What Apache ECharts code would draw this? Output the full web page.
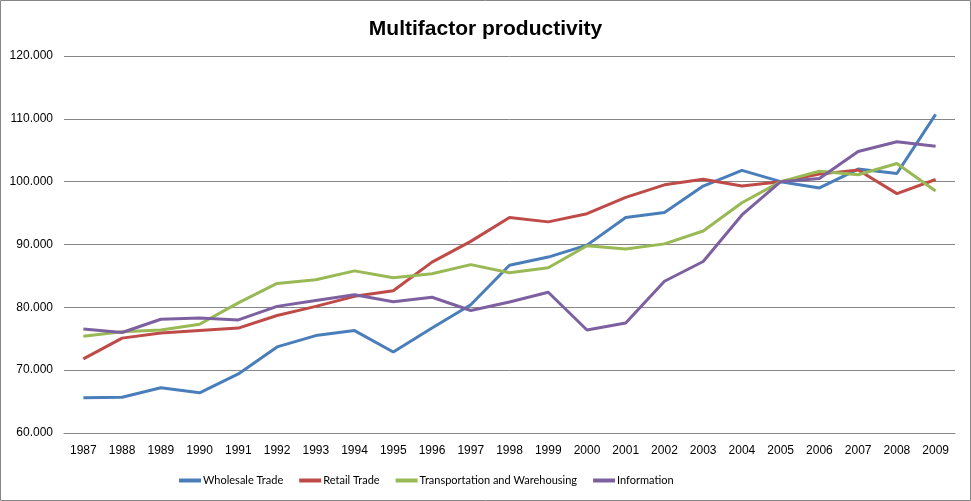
<!DOCTYPE html>
<html><head><meta charset="utf-8">
<script src="https://cdn.jsdelivr.net/npm/echarts@6/dist/echarts.min.js"></script>
<style>html,body{margin:0;padding:0;background:#fff}#c{width:971px;height:501px}</style>
</head><body><div id="c"></div>
<script>
const years = ['1987','1988','1989','1990','1991','1992','1993','1994','1995','1996','1997','1998','1999','2000','2001','2002','2003','2004','2005','2006','2007','2008','2009'];
const wholesale = [65.6,65.7,67.2,66.4,69.4,73.7,75.5,76.3,72.9,76.7,80.4,86.7,88.0,89.9,94.3,95.1,99.3,101.8,100.0,99.0,102.0,101.3,110.7];
const retail = [71.8,75.1,75.9,76.3,76.7,78.7,80.15,81.75,82.65,87.2,90.5,94.3,93.6,94.9,97.5,99.5,100.4,99.3,100.0,101.2,101.85,98.1,100.35];
const transport = [75.4,76.1,76.4,77.3,80.7,83.8,84.4,85.8,84.7,85.35,86.8,85.5,86.3,89.8,89.3,90.1,92.15,96.65,100.0,101.65,101.1,102.9,98.5];
const information = [76.55,76.0,78.1,78.3,78.0,80.15,81.1,82.0,80.9,81.6,79.5,80.85,82.4,76.4,77.5,84.15,87.3,94.7,100.0,100.5,104.8,106.35,105.65];
const seriesNames = ['Wholesale Trade','Retail Trade','Transportation and Warehousing','Information'];
const colors = ['#4A7EBB','#BE4B48','#98B954','#7D60A0'];
const allData = [wholesale, retail, transport, information];

const chart = echarts.init(document.getElementById('c'));
const font = '"Liberation Sans", Arial, sans-serif';
const legendFont = 'Lato, "Liberation Sans", sans-serif';
chart.setOption({
  animation: false,
  title: {text: 'Multifactor productivity', left: 'center', top: 14,
    textStyle: {fontFamily: font, fontSize: 21, fontWeight: 'bold', color: '#000'}},
  graphic: [{type: 'rect', shape: {x: 0.5, y: 0.5, width: 970, height: 500},
    style: {fill: 'none', stroke: '#868686', lineWidth: 1}, silent: true}],
  grid: {left: 64, right: 16, top: 56, bottom: 68},
  legend: {
    bottom: 10, left: 174, itemGap: 16, itemWidth: 22, itemHeight: 4, icon: 'rect',
    textStyle: {fontFamily: legendFont, fontSize: 11, color: '#000', padding: [0,0,0,-3]},
    data: seriesNames
  },
  xAxis: {type: 'category', data: years, boundaryGap: true,
    axisLine: {show: true, lineStyle: {color: '#868686'}}, axisTick: {show: false},
    axisLabel: {fontFamily: font, fontSize: 12, color: '#000', margin: 12, interval: 0}},
  yAxis: {type: 'value', min: 60, max: 120, interval: 10,
    axisLine: {show: false}, axisTick: {show: false},
    splitLine: {lineStyle: {color: '#868686', width: 1}},
    axisLabel: {fontFamily: font, fontSize: 12, color: '#000', margin: 11,
      formatter: v => v.toFixed(3)}},
  series: seriesNames.map((n, i) => ({
    name: n, type: 'line', data: allData[i], symbol: 'none',
    lineStyle: {width: 3, color: colors[i]}, itemStyle: {color: colors[i]}
  }))
});
</script></body></html>
